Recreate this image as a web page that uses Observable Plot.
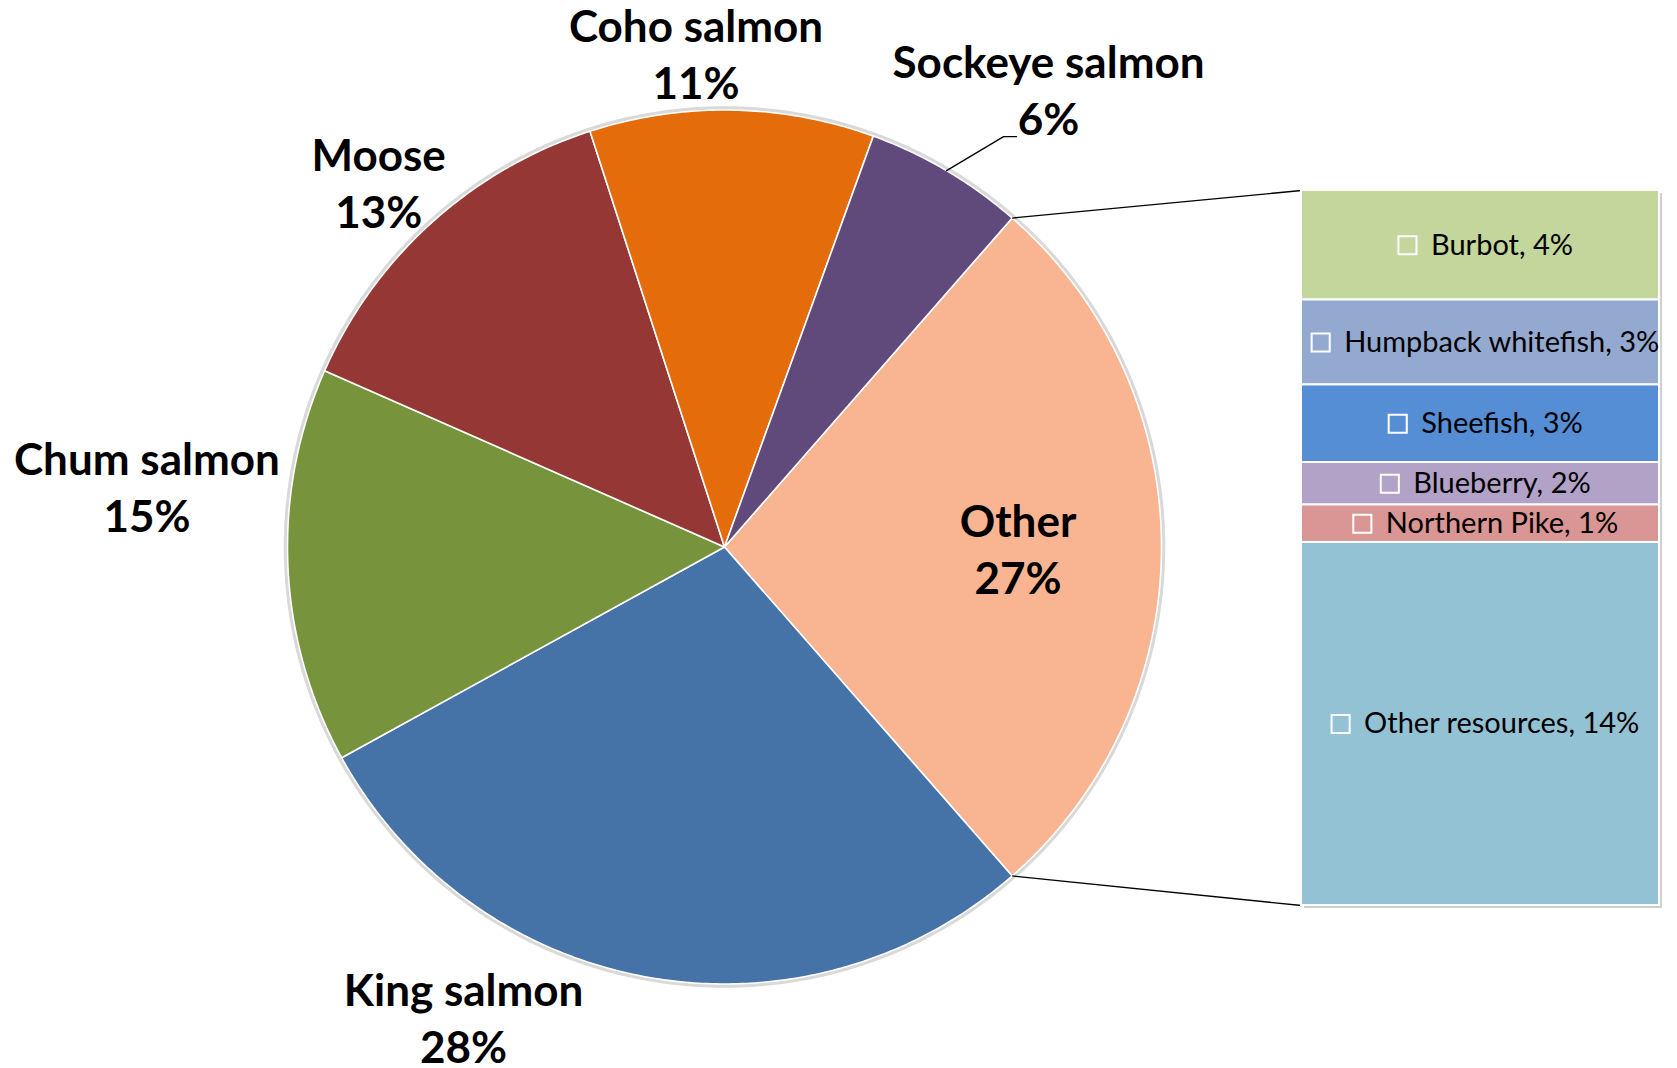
<!DOCTYPE html>
<html><head><meta charset="utf-8">
<script src="https://cdn.jsdelivr.net/npm/d3@7"></script>
<script src="https://cdn.jsdelivr.net/npm/@observablehq/plot@0.6"></script>
<style>
html,body{margin:0;padding:0;background:#fff;}
#chart{width:1677px;height:1068px;}
</style></head><body><div id="chart"></div>
<script>
// ---------- DATA ----------
const pieNames  = ["Other", "King salmon", "Chum salmon", "Moose", "Coho salmon", "Sockeye salmon"];
const pieValues = [27.1, 28.4, 14.6, 13.4, 10.5, 5.9];
const pieLabels = ["27%", "28%", "15%", "13%", "11%", "6%"];
const pieColors = ["#F9B592", "#4572A7", "#77933C", "#953735", "#E46C0A", "#604A7B"];

const subNames  = ["Burbot", "Humpback whitefish", "Sheefish", "Blueberry", "Northern Pike", "Other resources"];
const subValues = [4.15, 3.22, 2.94, 1.61, 1.42, 13.76];
const subLabels = ["4%", "3%", "3%", "2%", "1%", "14%"];
const subColors = ["#C3D69B", "#94A9CF", "#558ED5", "#B3A2C7", "#D99694", "#93C2D4"];

// ---------- LAYOUT (pixels) ----------
const W = 1677, H = 1068;
const CX = 724, CY = 546.5, R = 437;
const BAR = {left: 1301, right: 1659, top: 190, bottom: 905, labelCenter: 1485};
const FONT = "Lato, 'Open Sans', sans-serif";
const LIFT = 6.5;
const labelNudge = { // offsets (px) of label block from slice mid-angle point on the rim
  "Other": [-143.5, 7 - LIFT], "King salmon": [-185, 45 - LIFT], "Chum salmon": [-141, -74 - LIFT],
  "Moose": [-53, -35 - LIFT], "Coho salmon": [-36, -51.5 - LIFT], "Sockeye salmon": [102, -76 - LIFT]
};
const ux = px => (px - CX) / R;
const uy = py => (CY - py) / R;

// ---------- PIE GEOMETRY ----------
const total = d3.sum(pieValues);
const a0 = Math.PI / 2 - (pieValues[0] / total) * Math.PI; // "Other" centred at 3 o'clock
const pieData = pieNames.map((name, i) => ({name, value: pieValues[i], label: pieLabels[i]}));
const arcs = d3.pie().sort(null).value(d => d.value).startAngle(a0).endAngle(a0 + 2 * Math.PI)(pieData);

const slicePts = [];
arcs.forEach(a => {
  const n = Math.max(8, Math.ceil((a.endAngle - a.startAngle) / 0.01));
  slicePts.push({name: a.data.name, x: 0, y: 0});
  for (let i = 0; i <= n; i++) {
    const t = a.startAngle + (a.endAngle - a.startAngle) * i / n;
    slicePts.push({name: a.data.name, x: Math.sin(t), y: Math.cos(t)});
  }
  slicePts.push({name: a.data.name, x: 0, y: 0});
});
const halo = d3.range(0, 361).map(d => ({x: 1.004 * Math.sin(d * Math.PI / 180), y: 1.004 * Math.cos(d * Math.PI / 180)}));

const pieLabelData = arcs.map(a => {
  const m = (a.startAngle + a.endAngle) / 2;
  const nud = labelNudge[a.data.name];
  return {x: Math.sin(m) + nud[0] / R, y: Math.cos(m) - nud[1] / R,
          text: a.data.name + "\n" + a.data.label, mid: m, name: a.data.name};
});

// Sockeye leader line
const sock = pieLabelData.find(d => d.name === "Sockeye salmon");
const leader = [
  {x: Math.sin(sock.mid), y: Math.cos(sock.mid)},
  {x: sock.x - 45 / R, y: sock.y - (42 + LIFT) / R},
  {x: sock.x - 32 / R, y: sock.y - (42 + LIFT) / R}
];

// ---------- BAR GEOMETRY ----------
const subTotal = d3.sum(subValues);
const k = (uy(BAR.top) - uy(BAR.bottom)) / subTotal;
const cum = [0, ...d3.cumsum(subValues)];
const ctx = document.createElement("canvas").getContext("2d");
ctx.font = "29px Lato";
const barData = subNames.map((name, i) => {
  const y2 = uy(BAR.top) - cum[i] * k, y1 = uy(BAR.top) - cum[i + 1] * k;
  const label = name + ", " + subLabels[i];
  const w = ctx.measureText(label).width;
  const gx = BAR.labelCenter - (w + 33) / 2;
  return {name, x1: ux(BAR.left), x2: ux(BAR.right), y1, y2, cy: (y1 + y2) / 2,
          label, sx: ux(gx + 9.5), tx: ux(gx + 33)};
});

// connectors from "Other" slice edges to the bar corners
const oth = arcs[0];
const connectors = [
  {x1: Math.sin(oth.startAngle), y1: Math.cos(oth.startAngle), x2: ux(BAR.left), y2: uy(BAR.top)},
  {x1: Math.sin(oth.endAngle), y1: Math.cos(oth.endAngle), x2: ux(BAR.left), y2: uy(BAR.bottom)}
];

const chart = Plot.plot({
  width: W, height: H,
  marginTop: 0, marginRight: 0, marginBottom: 0, marginLeft: 0,
  x: {domain: [-1, 1], range: [CX - R, CX + R], axis: null},
  y: {domain: [-1, 1], range: [CY + R, CY - R], axis: null},
  color: {domain: [...pieNames, ...subNames], range: [...pieColors, ...subColors]},
  style: {fontFamily: FONT, background: "white", overflow: "visible"},
  marks: [
    Plot.line(halo, {x: "x", y: "y", stroke: "#d9d9d9", strokeWidth: 4}),
    Plot.line(slicePts, {x: "x", y: "y", z: "name", fill: "name", stroke: "white", strokeWidth: 1.6, strokeLinejoin: "round"}),
    Plot.link(connectors, {x1: "x1", y1: "y1", x2: "x2", y2: "y2", stroke: "black", strokeWidth: 1.3}),
    Plot.line(leader, {x: "x", y: "y", stroke: "black", strokeWidth: 1.3}),
    Plot.rect([barData[0]], {x1: ux(BAR.left), x2: ux(BAR.right), y1: uy(BAR.bottom), y2: uy(BAR.top), fill: "#cfcfcf", dx: 3, dy: 3}),
    Plot.rect(barData, {x1: "x1", x2: "x2", y1: "y1", y2: "y2", fill: "name", stroke: "white", strokeWidth: 2}),
    Plot.dot(barData, {x: "sx", y: "cy", symbol: "square", r: 10.2, fill: "none", stroke: "white", strokeWidth: 2}),
    Plot.text(barData, {x: "tx", y: "cy", text: "label", textAnchor: "start", fontSize: 29, fontFamily: FONT, fill: "black"}),
    Plot.text(pieLabelData, {x: "x", y: "y", text: "text", fontSize: 44, fontWeight: "bold", fontFamily: FONT,
      lineHeight: 1.295, lineAnchor: "middle", fill: "black"})
  ]
});
document.getElementById("chart").appendChild(chart);
</script>
</body></html>
